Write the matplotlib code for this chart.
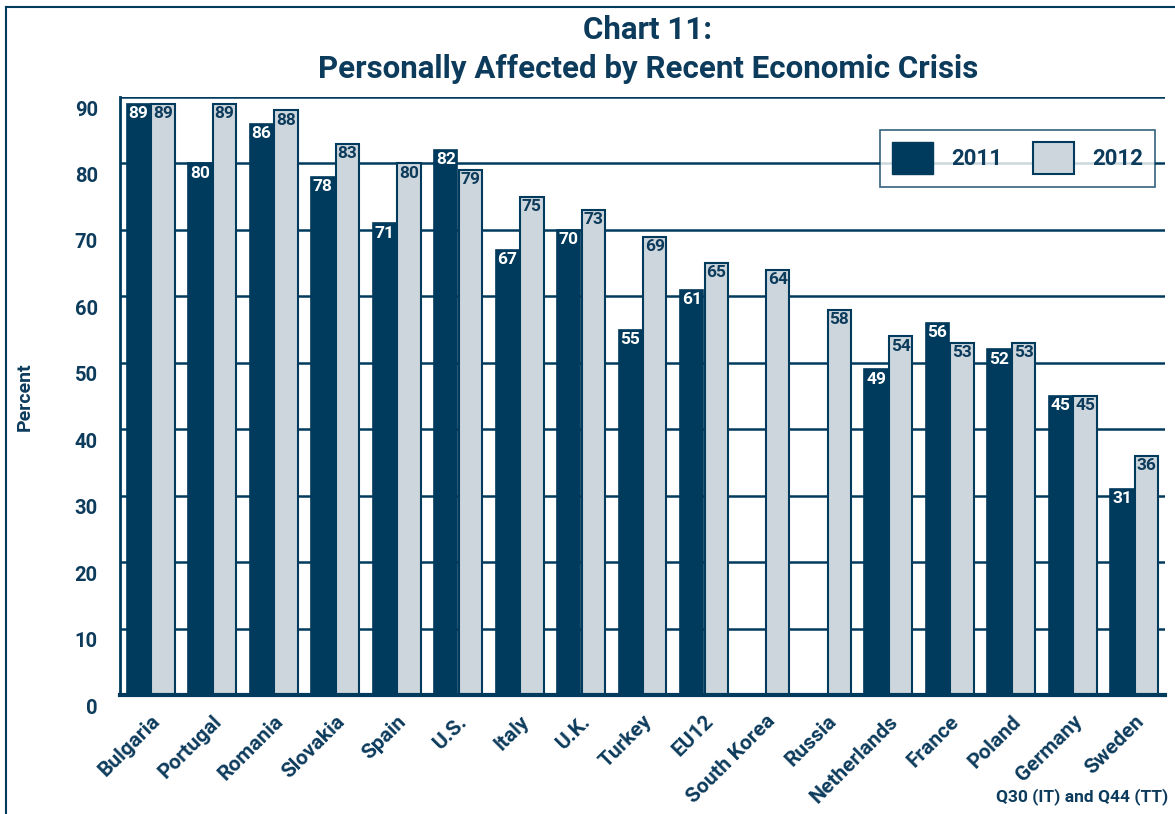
import numpy as np
import matplotlib
matplotlib.use("Agg")
import matplotlib.pyplot as plt
from matplotlib.lines import Line2D
from matplotlib.patches import Patch
import matplotlib.transforms as mtransforms

countries = ["Bulgaria", "Portugal", "Romania", "Slovakia", "Spain", "U.S.", "Italy",
             "U.K.", "Turkey", "EU12", "South Korea", "Russia", "Netherlands",
             "France", "Poland", "Germany", "Sweden"]
v2011 = [89, 80, 86, 78, 71, 82, 67, 70, 55, 61, np.nan, np.nan, 49, 56, 52, 45, 31]
v2012 = [89, 89, 88, 83, 80, 79, 75, 73, 69, 65, 64, 58, 54, 53, 53, 45, 36]
yticks = [0, 10, 20, 30, 40, 50, 60, 70, 80, 90]
series_labels = ["2011", "2012"]

NAVY = "#003a5c"
LIGHT = "#cdd6dc"
TEXT = "#0d3b5c"
FONT = "Roboto"

plt.rcParams['font.family'] = [FONT, 'DejaVu Sans']

fig = plt.figure(figsize=(11.75, 8.14), dpi=100)
ax = fig.add_axes([120/1175, 1-695/814, (1165-120)/1175, (695-97)/814])

x = np.arange(len(countries))
off = 0.2
w = 0.38
ax.bar(x - off, v2011, w, color=NAVY, edgecolor=NAVY, linewidth=1.2, zorder=3)
ax.bar(x + off, v2012, w, color=LIGHT, edgecolor=NAVY, linewidth=1.5, zorder=3)

for xi, v in zip(x, v2011):
    if not np.isnan(v):
        ax.text(xi - off, v - 0.35, f"{int(v)}", ha="center", va="top", color="white",
                fontsize=12.5, fontweight="bold", zorder=5)
for xi, v in zip(x, v2012):
    ax.text(xi + off, v - 0.35, f"{int(v)}", ha="center", va="top", color=TEXT,
            fontsize=12.5, fontweight="bold", zorder=5)

ax.set_xlim(-0.5, len(countries) - 0.5)
ax.set_ylim(0, 90)
ax.set_yticks(yticks)
for yv in yticks[1:]:
    ax.axhline(yv, color=NAVY, linewidth=1.8, zorder=1)

ax.spines["right"].set_visible(False)
ax.spines["top"].set_visible(False)
ax.spines["left"].set_color(NAVY)
ax.spines["left"].set_linewidth(2)
ax.spines["bottom"].set_color(NAVY)
ax.spines["bottom"].set_linewidth(3)
ax.spines["bottom"].set_zorder(4)

ax.tick_params(axis="both", length=0)
ax.tick_params(axis="y", pad=16, labelsize=14.5, labelcolor=TEXT)
for lab in ax.get_yticklabels():
    lab.set_fontweight("bold")
    lab.set_transform(lab.get_transform() + mtransforms.ScaledTranslation(0, -11/100, fig.dpi_scale_trans))

ax.set_xticks(x)
ax.set_xticklabels(countries, rotation=45, ha="right", va="top", rotation_mode="anchor",
                   fontsize=15, fontweight="bold", color=TEXT)
ax.tick_params(axis="x", pad=12)

fig.text(25/1175, 1-397/814, "Percent", rotation=90, ha="center", va="center",
         fontsize=14, fontweight="bold", color=TEXT)

fig.text(648/1175, 1-30/814, "Chart 11:", ha="center", va="center",
         fontsize=22.5, fontweight="bold", color=TEXT)
fig.text(648/1175, 1-69/814, "Personally Affected by Recent Economic Crisis", ha="center",
         va="center", fontsize=22.5, fontweight="bold", color=TEXT)

fig.text(1168/1175, 1-797/814, "Q30 (IT) and Q44 (TT)", ha="right", va="center",
         fontsize=12.5, fontweight="bold", color=TEXT)

handles = [Patch(facecolor=NAVY, edgecolor=NAVY), Patch(facecolor=LIGHT, edgecolor=NAVY, linewidth=1.5)]
leg = fig.legend(handles, series_labels, loc="upper left",
                 bbox_to_anchor=(880/1175, 1-130/814), ncol=2, frameon=True, fancybox=False,
                 prop={"family": FONT, "weight": "bold", "size": 16},
                 handlelength=1.85, handleheight=1.85, handletextpad=0.8, columnspacing=1.4,
                 borderpad=0.55, borderaxespad=0, labelcolor=TEXT)
leg.get_frame().set_edgecolor(NAVY)
leg.get_frame().set_linewidth(1.2)

fig.add_artist(Line2D([6/1175, 6/1175], [0, 1-7/814], color=NAVY, linewidth=1.5, transform=fig.transFigure))
fig.add_artist(Line2D([6/1175, 1], [1-7/814, 1-7/814], color=NAVY, linewidth=1.5, transform=fig.transFigure))

fig.savefig("out.png", dpi=100)
